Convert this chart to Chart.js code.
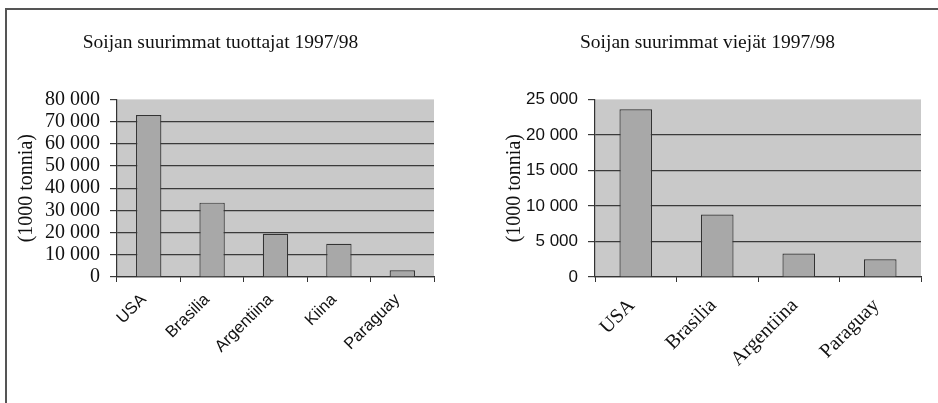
<!DOCTYPE html>
<html>
<head>
<meta charset="utf-8">
<script src="https://cdn.jsdelivr.net/npm/chart.js@4"></script>
<style>
  body { margin: 0; background: #fff; width: 938px; height: 403px; position: relative; overflow: hidden; }
  .frame { position: absolute; left: 5px; top: 8px; width: 940px; height: 400px; border-left: 2px solid #555; border-top: 2px solid #555; }
  .box { position: absolute; top: 10px; width: 428px; height: 385px; }
</style>
</head>
<body>
<div class="frame"></div>
<div class="box" style="left:7px"><canvas id="tuottajatChart"></canvas></div>
<div class="box" style="left:494px"><canvas id="viejatChart"></canvas></div>
<script>
const tuottajat = ['USA', 'Brasilia', 'Argentiina', 'Kiina', 'Paraguay'];
const tuotanto = [73000, 33500, 19500, 15000, 3000];
const tuotantoTicks = [0, 10000, 20000, 30000, 40000, 50000, 60000, 70000, 80000];

const viejat = ['USA', 'Brasilia', 'Argentiina', 'Paraguay'];
const vienti = [23600, 8800, 3300, 2500];
const vientiTicks = [0, 5000, 10000, 15000, 20000, 25000];

const serif = 'Liberation Serif';
const sans = 'Liberation Sans';

// gray plot background
const plotBg = {
    id: 'plotBg',
    beforeDraw(chart) {
        const a = chart.chartArea;
        const ctx = chart.ctx;
        ctx.save();
        ctx.fillStyle = '#c9c9c9';
        ctx.fillRect(a.left, a.top, a.right - a.left, a.bottom - a.top);
        ctx.restore();
    }
};

function fmt(v) {
    return String(v).replace(/\B(?=(\d{3})+(?!\d))/g, ' ');
}

function makeChart(id, labels, values, ticks, o) {
    return new Chart(document.getElementById(id), {
        type: 'bar',
        data: {
            labels: labels,
            datasets: [{
                data: values,
                backgroundColor: '#a8a8a8',
                borderColor: '#333',
                borderWidth: 1.2,
                barPercentage: 0.8,
                categoryPercentage: 0.5
            }]
        },
        plugins: [plotBg],
        options: {
            responsive: false,
            animation: false,
            layout: { padding: { left: 0, right: 1, top: 0, bottom: 0 } },
            plugins: {
                legend: { display: false },
                tooltip: { enabled: false },
                title: {
                    display: true,
                    text: o.title,
                    color: '#111',
                    font: { family: serif, size: 19.5, weight: 'normal' },
                    padding: { top: 21, bottom: 45 }
                }
            },
            scales: {
                x: {
                    afterFit: s => { s.height = o.xh; },
                    grid: { display: true, drawOnChartArea: false, offset: true, color: '#333', tickLength: 5 },
                    border: { color: '#333', width: 1.2 },
                    ticks: {
                        color: '#111',
                        minRotation: 45, maxRotation: 45,
                        padding: o.xpad,
                        labelOffset: o.xoff,
                        font: { family: o.xfont, size: o.xsize }
                    }
                },
                y: {
                    min: 0,
                    max: ticks[ticks.length - 1],
                    afterFit: s => { s.width = o.yw; },
                    afterBuildTicks: s => { s.ticks = ticks.map(v => ({ value: v })); },
                    grid: {
                        color: c => c.tick && c.tick.value === ticks[ticks.length - 1] ? 'rgba(0,0,0,0)' : '#3a3a3a',
                        tickColor: '#3a3a3a',
                        lineWidth: 1.2,
                        tickLength: 7
                    },
                    border: { color: '#333', width: 1.2 },
                    ticks: {
                        color: '#111',
                        autoSkip: false,
                        padding: 10,
                        callback: v => fmt(v),
                        font: { family: o.yfont, size: o.ysize }
                    },
                    title: {
                        display: true,
                        text: '(1000 tonnia)',
                        color: '#111',
                        padding: o.ytpad,
                        font: { family: serif, size: 20 }
                    }
                }
            }
        }
    });
}

document.querySelectorAll('canvas').forEach(c => { c.width = 428; c.height = 385; });

makeChart('tuottajatChart', tuottajat, tuotanto, tuotantoTicks, {
    title: 'Soijan suurimmat tuottajat 1997/98',
    yw: 110, xh: 118, xpad: 8, xoff: -5, xfont: sans, xsize: 16.5,
    yfont: serif, ysize: 20, ytpad: 8
});

makeChart('viejatChart', viejat, vienti, vientiTicks, {
    title: 'Soijan suurimmat viejät 1997/98',
    yw: 101, xh: 118, xpad: 12, xoff: -4, xfont: serif, xsize: 20,
    yfont: sans, ysize: 17, ytpad: 9
});
</script>
</body>
</html>
